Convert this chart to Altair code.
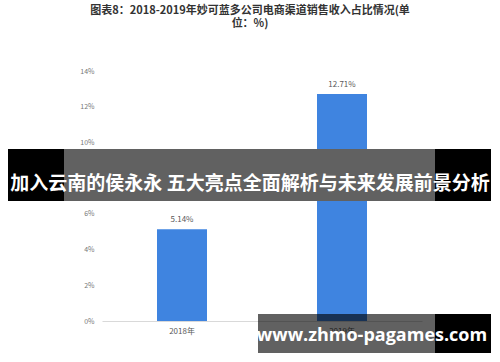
import altair as alt
import pandas as pd

years = ["2018年", "2019年"]
shares = [5.14, 12.71]
value_labels = ["5.14%", "12.71%"]
y_ticks = [0, 2, 4, 6, 8, 10, 12, 14]
title_lines = ["图表8：2018-2019年妙可蓝多公司电商渠道销售收入占比情况(单", "位：%)"]
banner_text = "加入云南的侯永永 五大亮点全面解析与未来发展前景分析"
site_text = "www.zhmo-pagames.com"

df = pd.DataFrame({"year": years, "share": shares, "label": value_labels})

W, H = 320, 250
FONT = "Noto Sans CJK SC"

x_enc = alt.X("year:N", sort=years, title=None,
              scale=alt.Scale(paddingInner=0, paddingOuter=0),
              axis=alt.Axis(labelAngle=0, ticks=False, domainColor="#d9d9d9",
                            labelColor="#595959", labelFontSize=8, labelPadding=6,
                            labelFont=FONT))
y_enc = alt.Y("share:Q", title=None,
              scale=alt.Scale(domain=[0, 14], nice=False),
              axis=alt.Axis(values=y_ticks, grid=False, domain=False, ticks=False,
                            labelOverlap=False,
                            labelExpr="datum.value + '%'", labelColor="#777777",
                            labelFontSize=7, labelPadding=8, labelFont=FONT))

bars = alt.Chart(df).mark_bar(size=50, color="#3F84E0").encode(x=x_enc, y=y_enc)
labels = alt.Chart(df).mark_text(dy=-9, fontSize=8, color="#595959", font=FONT).encode(
    x=x_enc, y=y_enc, text="label:N")

one = pd.DataFrame({"a": [0]})
banner_black = alt.Chart(one).mark_rect(color="#000000", clip=False).encode(
    x=alt.value(-94), x2=alt.value(389), y=alt.value(78), y2=alt.value(130))
banner_gray = alt.Chart(one).mark_rect(color="#ffffff", opacity=0.38, clip=False).encode(
    x=alt.value(-38), x2=alt.value(333), y=alt.value(78), y2=alt.value(130))
banner_txt = alt.Chart(one).mark_text(text=banner_text, color="white", fontSize=19,
                                      fontWeight="bold", font=FONT, baseline="middle",
                                      align="center").encode(
    x=alt.value(148), y=alt.value(113))

site_gray = alt.Chart(one).mark_rect(color="#000000", opacity=0.62).encode(
    x=alt.value(156), x2=alt.value(333), y=alt.value(243), y2=alt.value(282))
site_black = alt.Chart(one).mark_rect(color="#000000").encode(
    x=alt.value(333), x2=alt.value(389), y=alt.value(243), y2=alt.value(282))
site_txt = alt.Chart(one).mark_text(text=site_text, color="white", fontSize=18,
                                    fontWeight="bold", font="Open Sans",
                                    baseline="alphabetic", align="center").encode(
    x=alt.value(270), y=alt.value(270))

chart = alt.layer(bars, labels, banner_black, banner_gray, banner_txt,
                  site_gray, site_black, site_txt).properties(
    width=W, height=H,
    background="white",
    title=alt.TitleParams(title_lines, anchor="middle", fontSize=11, fontWeight="bold",
                          color="#333333", font=FONT, offset=38, dx=-12, lineHeight=13),
    autosize=alt.AutoSizeParams(type="none"),
    padding={"left": 102, "top": 71, "right": 78, "bottom": 41},
).configure_view(stroke=None)

chart.save("out.html", embed_options={"renderer": "svg", "actions": False})
